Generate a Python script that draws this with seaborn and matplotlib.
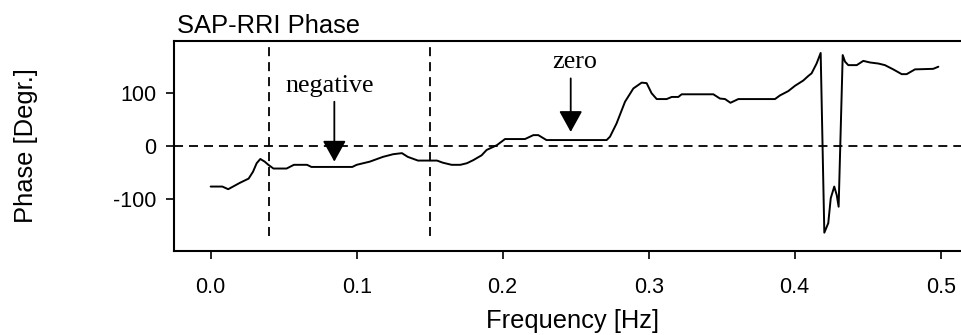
import numpy as np
import pandas as pd
import seaborn as sns
import matplotlib.pyplot as plt

# --- dati ---
freq = [0.000, 0.008, 0.012, 0.020, 0.026, 0.029, 0.0315, 0.034, 0.037, 0.0395,
        0.043, 0.052, 0.057, 0.066, 0.069, 0.097, 0.100, 0.109, 0.118, 0.125,
        0.131, 0.135, 0.142, 0.155, 0.159, 0.165, 0.171, 0.1755, 0.180, 0.1856,
        0.189, 0.196, 0.2016, 0.2153, 0.221, 0.2244, 0.230, 0.2712, 0.2735, 0.278,
        0.2838, 0.2895, 0.2952, 0.2986, 0.302, 0.3055, 0.3123, 0.3158, 0.3203, 0.3226,
        0.3443, 0.3488, 0.3523, 0.356, 0.3614, 0.3865, 0.390, 0.3956, 0.4002, 0.4059,
        0.4093, 0.4116, 0.415, 0.4178, 0.4203, 0.423, 0.4247, 0.4271, 0.4288, 0.4301,
        0.4329, 0.4345, 0.4367, 0.4425, 0.447, 0.4516, 0.4573, 0.4618, 0.4675, 0.4733,
        0.4767, 0.4824, 0.4949, 0.4984]
phase = [-77, -77, -82, -70, -62, -49, -33, -25, -30, -36,
         -43, -43, -36, -36, -40, -40, -36, -30, -21, -16,
         -14, -21, -28, -28, -32, -36, -36, -33, -27, -18,
         -8, 1, 12.6, 12.6, 20, 20, 10.7, 10.7, 17, 42,
         83, 108, 119, 118, 99, 88, 88, 92, 92, 97,
         97, 89, 88, 81, 88, 88, 95, 103, 113, 123,
         131.5, 136.6, 155, 175, -164, -146, -99, -77, -93, -115,
         171, 158.5, 152, 152, 160, 157, 155, 152, 144, 135,
         135, 144, 145, 149]

band_edges = [0.04, 0.15]
xticks = [0.0, 0.1, 0.2, 0.3, 0.4, 0.5]
yticks = [-100, 0, 100]

df = pd.DataFrame({'freq': freq, 'phase': phase})

# --- grafico ---
sns.set_style("ticks")
plt.rcParams['font.family'] = ['Liberation Sans', 'DejaVu Sans']
for k in ['text.color', 'axes.labelcolor', 'xtick.color', 'ytick.color', 'axes.edgecolor']:
    plt.rcParams[k] = 'black'

fig = plt.figure(figsize=(9.62, 3.35), dpi=100)
ax = fig.add_axes([0.1809, 0.2516, 1 - 0.1809, 0.8776 - 0.2516])

dash = (0, (5, 3.3))
ax.axhline(0, color='black', lw=1.3, linestyle=dash)
ax.vlines(band_edges, -170, 198, colors='black', lw=1.3, linestyles=[dash])

sns.lineplot(data=df, x='freq', y='phase', color='black', lw=1.4,
             sort=False, estimator=None, ax=ax)

# frecce
arrow = dict(arrowstyle='-|>,head_length=1.3,head_width=0.72', mutation_scale=10,
             color='black', lw=1.3, shrinkA=0, shrinkB=0)
ax.annotate('', xy=(0.0847, -30), xytext=(0.0847, 83), arrowprops=arrow)
ax.annotate('', xy=(0.2466, 26), xytext=(0.2466, 127), arrowprops=arrow)
ax.text(0.0817, 102, 'negative', family=['Liberation Serif'], fontsize=18.8,
        ha='center', va='baseline')
ax.text(0.2493, 146, 'zero', family=['Liberation Serif'], fontsize=18.8,
        ha='center', va='baseline')

ax.set_xlim(-0.0251, 0.5146)
ax.set_ylim(-198, 197.5)
ax.set_xticks(xticks)
ax.set_xticklabels([f'{t:.1f}' for t in xticks])
ax.set_yticks(yticks)
ax.set_yticklabels([str(t) for t in yticks])
ax.tick_params(direction='out', length=5.8, width=1.2, labelsize=15.5, color='black')
ax.tick_params(axis='x', pad=13)
ax.tick_params(axis='y', pad=7)

for s in ['left', 'top', 'bottom']:
    ax.spines[s].set_linewidth(1.5)
ax.spines['right'].set_visible(False)

ax.set_xlabel('Frequency [Hz]', fontsize=18.4)
ax.set_ylabel('Phase [Degr.]', fontsize=18.4)
ax.xaxis.label.set_va('center')
ax.yaxis.label.set_va('center')
ax.xaxis.set_label_coords(0.506, -0.335)
ax.yaxis.set_label_coords(-0.188, 0.5)
ax.set_title('SAP-RRI Phase', fontsize=18.4, loc='left', pad=6, x=0.004)

fig.savefig('out.png', dpi=100)
